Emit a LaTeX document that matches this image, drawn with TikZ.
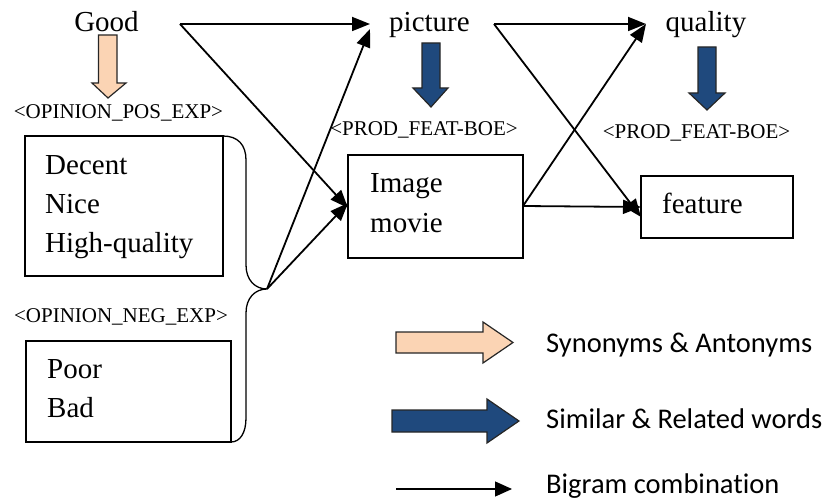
\documentclass[tikz,border=0pt]{standalone}
\usepackage{fontspec}
\setmainfont{Liberation Serif}
\newfontfamily\legendfont[Ligatures=NoCommon]{Carlito}
\usetikzlibrary{arrows.meta}
\definecolor{salmon}{RGB}{251,212,180}
\definecolor{darkblue}{RGB}{31,73,125}
\begin{document}
\begin{tikzpicture}[x=1pt,y=-1pt,
  word/.style={inner sep=0pt,font=\fontsize{29}{34}\selectfont},
  tag/.style={inner sep=0pt,font=\fontsize{21}{25}\selectfont},
  legtext/.style={inner sep=0pt,anchor=base west,font=\legendfont\fontsize{28.5}{34}\selectfont},
  wordbox/.style={draw,line width=1.3pt,inner sep=0pt,outer sep=0pt},
  bigram/.style={line width=1.8pt,-{Triangle[length=18pt,width=14pt]}},
  blockpos/.style={draw=black!85,line width=1.2pt,fill=salmon,line join=miter},
  blockrel/.style={draw=black!85,line width=1.2pt,fill=darkblue,line join=miter}]
\useasboundingbox (0,0) rectangle (833,500);

% top words
\node[word,anchor=base] (good) at (106.5,32) {Good};
\node[word,anchor=base] (picture) at (429.5,32) {picture};
\node[word,anchor=base] (quality) at (706,32) {quality};

% tags
\node[tag,anchor=base] (postag) at (118.5,119) {<OPINION\_POS\_EXP>};
\node[tag,anchor=base] (negtag) at (121,322) {<OPINION\_NEG\_EXP>};
\node[tag,anchor=base] (feattag1) at (424,136) {<PROD\_FEAT-BOE>};
\node[tag,anchor=base] (feattag2) at (696.5,139) {<PROD\_FEAT-BOE>};

% boxes
\node[wordbox,minimum width=198pt,minimum height=140pt] (posbox) at (124,206) {};
\node[wordbox,minimum width=205pt,minimum height=101pt] (negbox) at (128.5,391.5) {};
\node[wordbox,minimum width=175pt,minimum height=103pt] (imgbox) at (435.5,206.5) {};
\node[wordbox,minimum width=152pt,minimum height=62pt] (featbox) at (717,207) {};

% box texts
\node[word,anchor=base west] (decent) at (45,175) {Decent};
\node[word,anchor=base west] (nice) at (45,213) {Nice};
\node[word,anchor=base west] (hq) at (45,252) {High-quality};
\node[word,anchor=base west] (poor) at (47,378) {Poor};
\node[word,anchor=base west] (bad) at (47,417) {Bad};
\node[word,anchor=base west] (image) at (370,193) {Image};
\node[word,anchor=base west] (movie) at (370,232) {movie};
\node[word,anchor=base west] (feature) at (662,213) {feature};

% brace joining the two opinion boxes
\coordinate (bracetip) at (267,289);
\draw[line width=1.3pt] (posbox.north east) .. controls (238,136) and (246,145) .. (246,160)
  -- (246,265) .. controls (246,280) and (255,289) .. (bracetip)
  .. controls (255,289) and (246,298) .. (246,313)
  -- (246,418) .. controls (246,433) and (240,442) .. (negbox.south east);

% ports
\coordinate (goodout) at (180,24);
\coordinate (picin1) at (370,24);
\coordinate (picin2) at (370,29);
\coordinate (picout) at (494,24);
\coordinate (qualin) at (646,24);
\coordinate (imgin1) at ([yshift=-1.5pt]imgbox.west);
\coordinate (imgin2) at ([yshift=3.5pt]imgbox.west);
\coordinate (imgout) at ([yshift=0.5pt]imgbox.east);
\coordinate (featin1) at ([yshift=-10pt]featbox.west);
\coordinate (featin2) at (featbox.west);

% bigram connectors
\draw[bigram] (goodout) -- (picin1);
\draw[bigram] (goodout) -- (imgin1);
\draw[bigram] (bracetip) -- (picin2);
\draw[bigram] (bracetip) -- (imgin2);
\draw[bigram] (picout) -- (qualin);
\draw[bigram] (picout) -- (featin1);
\draw[bigram] (imgout) -- (qualin);
\draw[bigram] (imgout) -- (featin2);

% block arrows (relations)
\draw[blockpos] (98.5,35) -- (117,35) -- (117,83) -- (126,83) -- (108,98) -- (92,83) -- (98.5,83) -- cycle;
\draw[blockrel] (422,43) -- (440,43) -- (440,88) -- (448,88) -- (431,107) -- (413,88) -- (422,88) -- cycle;
\draw[blockrel] (698,47) -- (716,47) -- (716,93) -- (725,93) -- (707,110) -- (689,93) -- (698,93) -- cycle;

% legend
\draw[blockpos] (396,332) -- (483,332) -- (483,322) -- (513,342.5) -- (483,363) -- (483,353) -- (396,353) -- cycle;
\draw[blockrel] (392,410) -- (487,410) -- (487,399) -- (519,421) -- (487,443) -- (487,432) -- (392,432) -- cycle;
\coordinate (legstart) at (396,489);
\coordinate (legend) at (512,489);
\draw[line width=1.3pt,-{Triangle[length=17pt,width=15pt]}] (legstart) -- (legend);
\node[legtext] (leg1) at (546,352) {Synonyms \& Antonyms};
\node[legtext] (leg2) at (546,428) {Similar \& Related words};
\node[legtext] (leg3) at (546,493) {Bigram combination};
\end{tikzpicture}
\end{document}
